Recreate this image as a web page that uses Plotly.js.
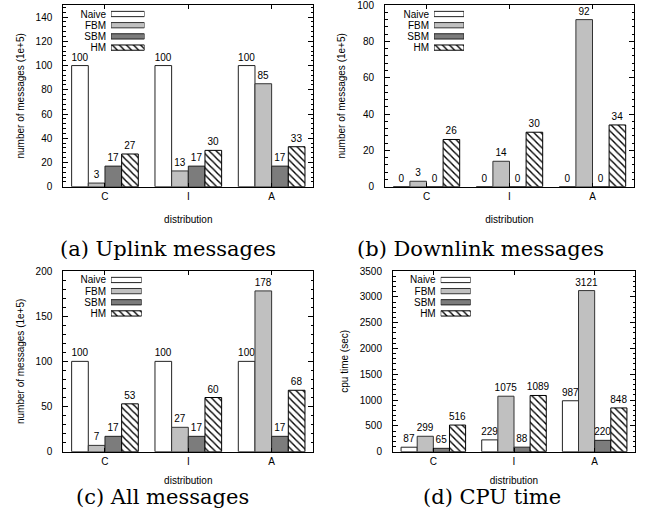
<!DOCTYPE html>
<html>
<head>
<meta charset="utf-8">
<script src="https://cdn.plot.ly/plotly-3.0.1.min.js"></script>
<style>html,body{margin:0;padding:0;background:#fff;}#chart{width:657px;height:513px;}</style>
</head>
<body>
<div id="chart"></div>
<script>
// ---- data ----
const categories = ['C', 'I', 'A'];
const seriesNames = ['Naive', 'FBM', 'SBM', 'HM'];

const uplinkNaive = [100, 100, 100];
const uplinkFBM   = [3, 13, 85];
const uplinkSBM   = [17, 17, 17];
const uplinkHM    = [27, 30, 33];

const downlinkNaive = [0, 0, 0];
const downlinkFBM   = [3, 14, 92];
const downlinkSBM   = [0, 0, 0];
const downlinkHM    = [26, 30, 34];

const allNaive = [100, 100, 100];
const allFBM   = [7, 27, 178];
const allSBM   = [17, 17, 17];
const allHM    = [53, 60, 68];

const cpuNaive = [87, 229, 987];
const cpuFBM   = [299, 1075, 3121];
const cpuSBM   = [65, 88, 220];
const cpuHM    = [516, 1089, 848];

const captions = ['(a) Uplink messages', '(b) Downlink messages', '(c) All messages', '(d) CPU time'];
const yTitles = ['number of messages (1e+5)', 'number of messages (1e+5)', 'number of messages (1e+5)', 'cpu time (sec)'];
const xTitle = 'distribution';

// ---- styles ----
const W = 657, H = 513;
const sans = 'Liberation Sans, Arial, sans-serif';
const styles = {
  Naive: {color: '#ffffff', line: '#222222', pattern: null},
  FBM:   {color: '#c0c0c0', line: '#333333', pattern: null},
  SBM:   {color: '#7c7c7c', line: '#222222', pattern: null},
  HM:    {color: '#ffffff', line: '#000000', pattern: {shape: '\\', fgcolor: '#000000', bgcolor: '#ffffff', size: 5, solidity: 0.28}}
};

const panels = [
  {data: [uplinkNaive, uplinkFBM, uplinkSBM, uplinkHM], x: [63.3, 313.3], y: [5, 186.7], range: [0, 150], dtick: 20, minor: 4,
   leg: {x: [111, 144.5], y: [8.4, 53.2]}, xStand: 15},
  {data: [downlinkNaive, downlinkFBM, downlinkSBM, downlinkHM], x: [385, 634], y: [5, 186.7], range: [0, 100.05], dtick: 20, minor: 4,
   leg: {x: [434, 464], y: [8.4, 53.2]}, xStand: 15},
  {data: [allNaive, allFBM, allSBM, allHM], x: [63.3, 313.3], y: [271, 451.7], range: [0, 200.05], dtick: 50, minor: 10,
   leg: {x: [111, 141.7], y: [274.4, 319]}, xStand: 11},
  {data: [cpuNaive, cpuFBM, cpuSBM, cpuHM], x: [393, 635], y: [271, 451.7], range: [0, 3500.5], dtick: 500, minor: 100,
   leg: {x: [440.7, 470.7], y: [274.4, 319]}, xStand: 11}
];
const captionPos = [[168, 249], [480, 249], [162, 497], [492, 497]];

const traces = [];
const layout = {
  width: W, height: H,
  margin: {l: 0, r: 0, t: 0, b: 0},
  paper_bgcolor: '#ffffff', plot_bgcolor: 'rgba(0,0,0,0)',
  barmode: 'group', bargap: 0.2, bargroupgap: 0,
  font: {family: sans, size: 10, color: '#000'},
  annotations: [],
  showlegend: false
};

panels.forEach((p, i) => {
  const n = i + 1;
  const xa = n === 1 ? 'x' : 'x' + n;
  const ya = n === 1 ? 'y' : 'y' + n;
  const ln = n + 4;
  seriesNames.forEach((s, k) => {
    const st = styles[s];
    const marker = {color: st.color, line: {color: st.line, width: 1}};
    if (st.pattern) marker.pattern = st.pattern;
    traces.push({
      type: 'bar', name: s, x: categories, y: p.data[k],
      xaxis: xa, yaxis: ya,
      marker: marker,
      text: p.data[k].map(String), textposition: 'outside',
      textfont: {family: sans, size: 10, color: '#000'},
      constraintext: 'none', cliponaxis: false,
      hoverinfo: 'skip', showlegend: false
    });
    // legend key swatch (one unit long bar on a small key axis)
    traces.push({
      type: 'bar', orientation: 'h', name: s + ' key',
      y: [s], x: [1], base: 0, width: 0.47, offset: -0.235,
      xaxis: 'x' + ln, yaxis: 'y' + ln,
      marker: marker, hoverinfo: 'skip', showlegend: false
    });
  });
  const xKey = n === 1 ? 'xaxis' : 'xaxis' + n;
  const yKey = n === 1 ? 'yaxis' : 'yaxis' + n;
  layout[xKey] = {
    domain: [p.x[0] / W, p.x[1] / W], anchor: ya,
    type: 'category', range: [-0.5, 2.5],
    showline: true, mirror: 'ticks', linecolor: '#000', linewidth: 1,
    ticks: 'inside', ticklen: 4, tickcolor: '#000',
    showgrid: false, zeroline: false,
    tickfont: {family: sans, size: 10},
    title: {text: xTitle, font: {family: sans, size: 10}, standoff: p.xStand}
  };
  layout[yKey] = {
    domain: [1 - p.y[1] / H, 1 - p.y[0] / H], anchor: xa,
    range: p.range, tick0: 0, dtick: p.dtick,
    showline: true, mirror: 'ticks', linecolor: '#000', linewidth: 1,
    ticks: 'inside', ticklen: 5, tickcolor: '#000',
    minor: {ticks: 'inside', ticklen: 2.5, dtick: p.minor, tickcolor: '#000'},
    showgrid: false, zeroline: false,
    ticklabelstandoff: 8, ticklabeloverflow: 'allow',
    tickfont: {family: sans, size: 10},
    title: {text: yTitles[i], font: {family: sans, size: 10}, standoff: 9}
  };
  // key axes
  layout['xaxis' + ln] = {
    domain: [p.leg.x[0] / W, p.leg.x[1] / W], anchor: 'y' + ln,
    range: [0, 1], visible: false, fixedrange: true
  };
  layout['yaxis' + ln] = {
    domain: [1 - p.leg.y[1] / H, 1 - p.leg.y[0] / H], anchor: 'x' + ln,
    type: 'category', categoryarray: seriesNames, categoryorder: 'array',
    range: [3.5, -0.5], tickmode: 'linear', tick0: 0, dtick: 1,
    showline: false, showgrid: false, zeroline: false, ticks: '',
    ticklabelstandoff: 4,
    tickfont: {family: sans, size: 10}, fixedrange: true
  };
  layout.annotations.push({
    xref: 'paper', yref: 'paper',
    x: captionPos[i][0] / W, y: 1 - captionPos[i][1] / H,
    xanchor: 'center', yanchor: 'middle',
    text: captions[i], showarrow: false,
    font: {family: 'DejaVu Serif, serif', size: 21, color: '#000'}
  });
});

Plotly.newPlot('chart', traces, layout, {staticPlot: true, displayModeBar: false});
</script>
</body>
</html>
